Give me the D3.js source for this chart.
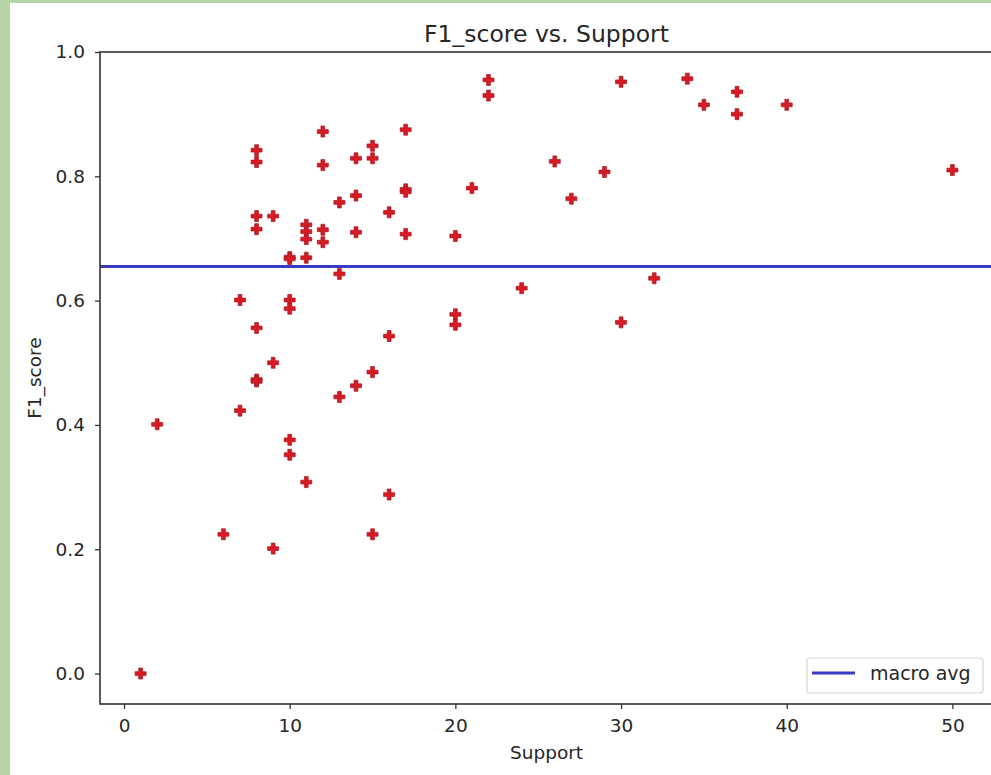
<!DOCTYPE html>
<html>
<head>
<meta charset="utf-8">
<script src="https://cdn.jsdelivr.net/npm/d3@7"></script>
<style>
  html, body { margin: 0; padding: 0; background: #b5d5a6; }
  svg { display: block; }
  text { font-family: "DejaVu Sans", sans-serif; fill: #262626; }
</style>
</head>
<body>
<svg id="chart" width="991" height="775"></svg>
<script>
// Per-class support and F1 score
const support = [1, 2, 6, 7, 7, 8, 8, 8, 8, 8, 8, 8, 9, 9, 9, 10, 10, 10, 10, 10, 10,
  11, 11, 11, 11, 11, 12, 12, 12, 12, 13, 13, 13, 14, 14, 14, 14, 15, 15, 15, 15,
  16, 16, 16, 17, 17, 17, 17, 20, 20, 20, 21, 22, 22, 24, 26, 27, 29, 30, 30, 32,
  34, 35, 37, 37, 40, 50];
const f1Score = [0.0, 0.401, 0.224, 0.601, 0.423, 0.842, 0.823, 0.736, 0.715, 0.556, 0.473, 0.470,
  0.736, 0.500, 0.201, 0.670, 0.667, 0.601, 0.587, 0.376, 0.352,
  0.722, 0.711, 0.699, 0.669, 0.308, 0.872, 0.818, 0.714, 0.694, 0.758, 0.643, 0.445,
  0.829, 0.769, 0.710, 0.463, 0.849, 0.829, 0.485, 0.224,
  0.742, 0.543, 0.288, 0.875, 0.779, 0.775, 0.707, 0.704, 0.578, 0.561, 0.781, 0.955, 0.930,
  0.620, 0.824, 0.764, 0.807, 0.952, 0.565, 0.636, 0.957, 0.915, 0.936, 0.900, 0.915, 0.810];
const macroAvg = 0.655;
const xTicks = [0, 10, 20, 30, 40, 50];
const yTicks = [0.0, 0.2, 0.4, 0.6, 0.8, 1.0];
const titleText = "F1_score vs. Support";
const xLabel = "Support";
const yLabel = "F1_score";
const legendLabel = "macro avg";

const svg = d3.select("#chart");

// white figure area inside the green frame
svg.append("rect").attr("x", 10).attr("y", 3).attr("width", 981).attr("height", 772).attr("fill", "#ffffff");

const plotLeft = 100, plotRight = 993, plotTop = 52, plotBottom = 704;
const x = d3.scaleLinear().domain([-1.45, 52.45]).range([plotLeft, plotRight]);
const y = d3.scaleLinear().domain([-0.049, 1.0]).range([plotBottom, plotTop]);

// macro average reference line
svg.append("line")
  .attr("x1", plotLeft).attr("x2", plotRight)
  .attr("y1", y(macroAvg)).attr("y2", y(macroAvg))
  .attr("stroke", "#3a3ac4").attr("stroke-width", 3);

// filled plus markers
const s = 5.5, a = 1.9;
const plusPath = `M${-a},${-s}H${a}V${-a}H${s}V${a}H${a}V${s}H${-a}V${a}H${-s}V${-a}H${-a}Z`;
const points = support.map((d, i) => ({ s: d, f: f1Score[i] }));
svg.append("g").selectAll("path").data(points).join("path")
  .attr("d", plusPath)
  .attr("transform", d => `translate(${x(d.s)},${y(d.f)})`)
  .attr("fill", "#d81a24").attr("stroke", "#a3161c").attr("stroke-width", 0.7);

// spines
svg.append("rect").attr("x", plotLeft).attr("y", plotTop)
  .attr("width", plotRight - plotLeft).attr("height", plotBottom - plotTop)
  .attr("fill", "none").attr("stroke", "#333333").attr("stroke-width", 1.6);

// x axis
const xAxis = svg.append("g").attr("transform", `translate(0,${plotBottom})`)
  .call(d3.axisBottom(x).tickValues(xTicks).tickFormat(d3.format("d")).tickSize(5).tickPadding(10));
xAxis.select(".domain").remove();
xAxis.selectAll(".tick line").attr("stroke", "#333333").attr("stroke-width", 1.3);
xAxis.selectAll(".tick text").attr("font-size", 18.5).attr("fill", "#262626")
  .attr("font-family", "DejaVu Sans");

// y axis
const yAxis = svg.append("g").attr("transform", `translate(${plotLeft},0)`)
  .call(d3.axisLeft(y).tickValues(yTicks).tickFormat(d3.format(".1f")).tickSize(5).tickPadding(10));
yAxis.select(".domain").remove();
yAxis.selectAll(".tick line").attr("stroke", "#333333").attr("stroke-width", 1.3);
yAxis.selectAll(".tick text").attr("font-size", 18.5).attr("fill", "#262626")
  .attr("font-family", "DejaVu Sans");

// title and axis labels
svg.append("text").attr("x", (plotLeft + plotRight) / 2).attr("y", 42).attr("text-anchor", "middle")
  .attr("font-size", 23.5).text(titleText);
svg.append("text").attr("x", (plotLeft + plotRight) / 2).attr("y", 759).attr("text-anchor", "middle")
  .attr("font-size", 18.5).text(xLabel);
svg.append("text").attr("transform", `translate(41,${(plotTop + plotBottom) / 2}) rotate(-90)`)
  .attr("text-anchor", "middle").attr("font-size", 18.5).text(yLabel);

// legend
const lg = svg.append("g");
lg.append("rect").attr("x", 807).attr("y", 658).attr("width", 176).attr("height", 35).attr("rx", 3)
  .attr("fill", "#ffffff").attr("fill-opacity", 0.8).attr("stroke", "#d6d6d6").attr("stroke-width", 1.2);
lg.append("line").attr("x1", 812).attr("x2", 855).attr("y1", 673).attr("y2", 673)
  .attr("stroke", "#3a3ac4").attr("stroke-width", 3);
lg.append("text").attr("x", 870).attr("y", 680).attr("font-size", 19).text(legendLabel);
</script>
</body>
</html>
